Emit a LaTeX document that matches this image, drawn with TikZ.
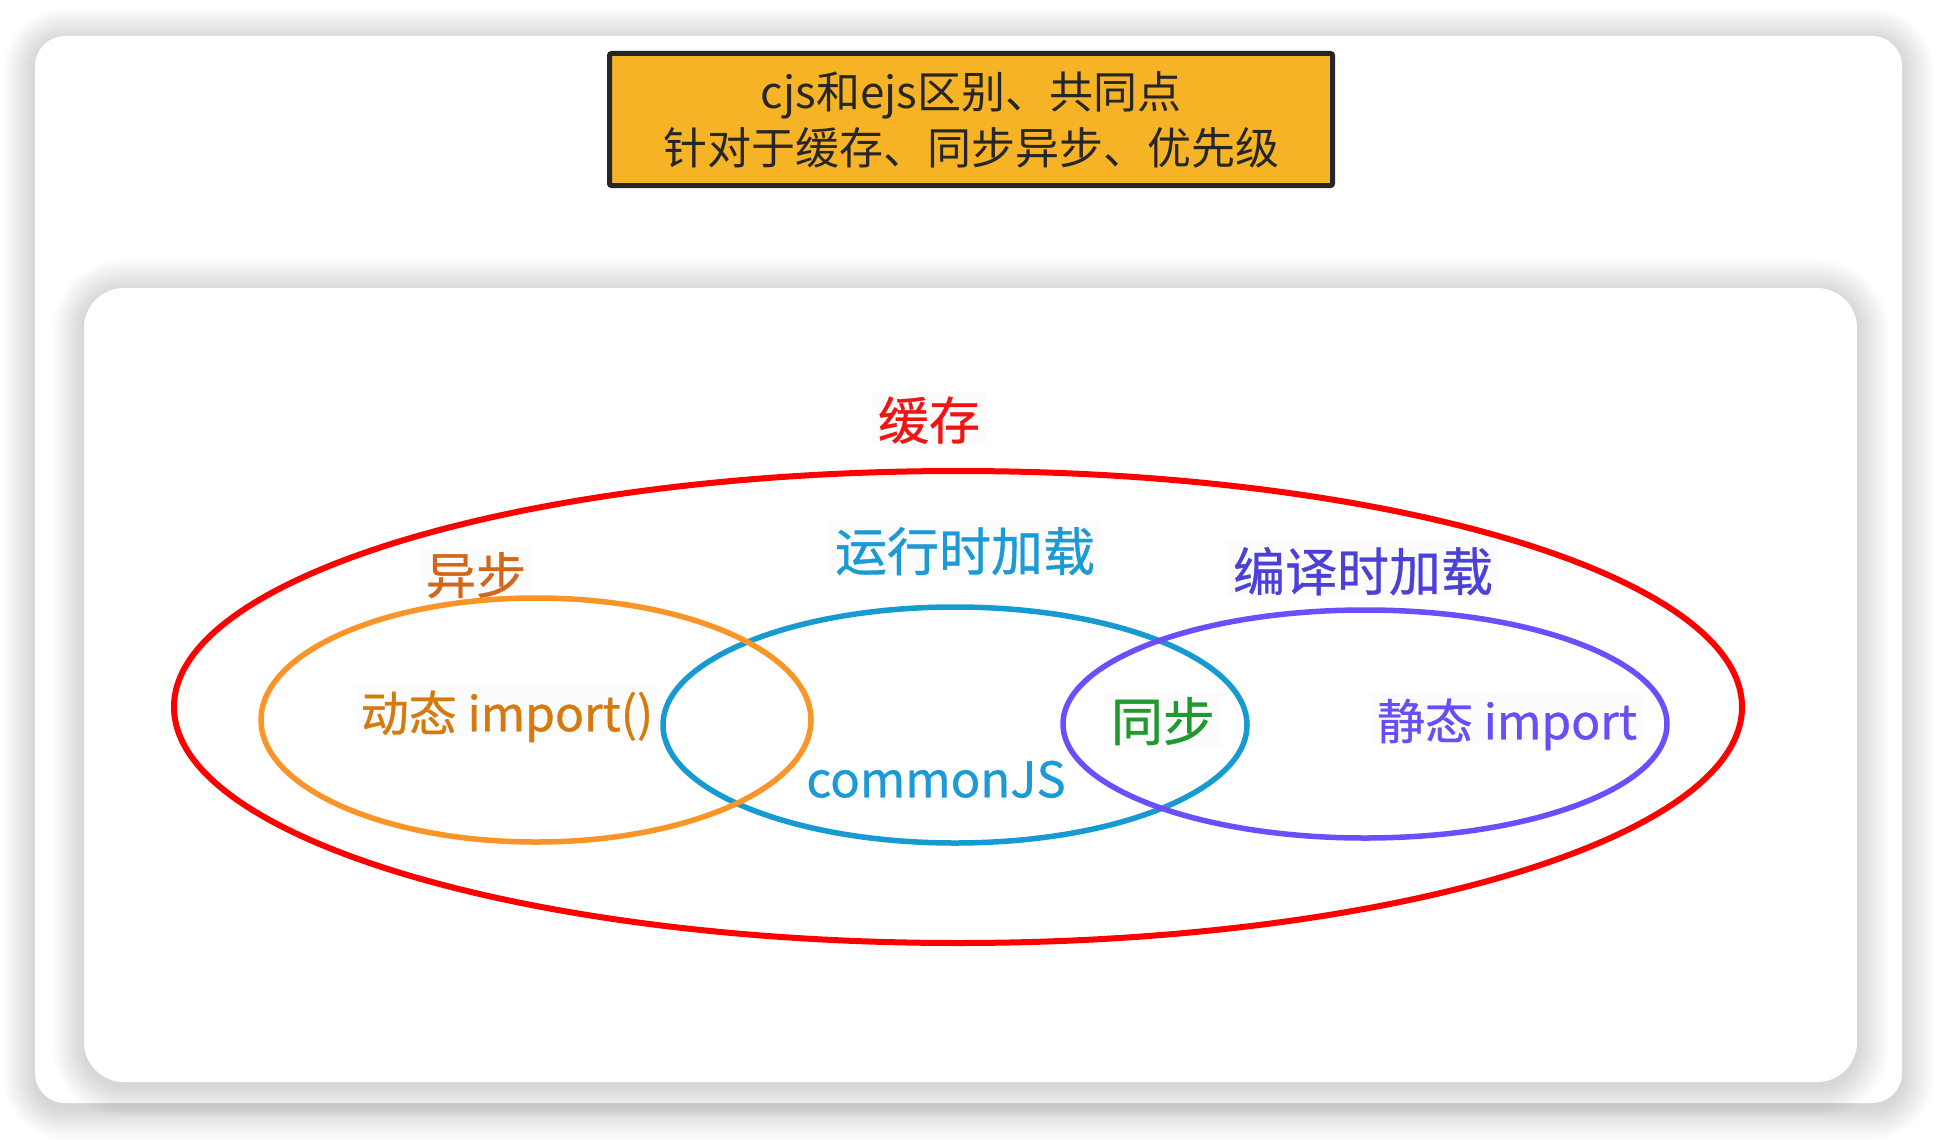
\documentclass[tikz,border=0pt]{standalone}
\usepackage{fontspec}
\setmainfont{Noto Sans CJK SC}
\newfontfamily\lblfont{Noto Sans CJK SC}[FakeBold=0.7]
\definecolor{titlefill}{HTML}{F6B325}
\definecolor{titletext}{HTML}{262626}
\definecolor{cred}{HTML}{FF0000}
\definecolor{credtext}{HTML}{F01515}
\definecolor{corange}{HTML}{FA9426}
\definecolor{corangetext}{HTML}{D57A0C}
\definecolor{casynctext}{HTML}{D2661A}
\definecolor{cblue}{HTML}{169AD2}
\definecolor{cbluetext}{HTML}{1B9AD6}
\definecolor{cpurple}{HTML}{6B4FFF}
\definecolor{cpurpletext}{HTML}{4B40D8}
\definecolor{cpurpletext2}{HTML}{6A4EF5}
\definecolor{cgreen}{HTML}{1F9A2E}
\begin{document}
\begin{tikzpicture}[x=1pt,y=-1pt,
  lbl/.style={inner sep=6pt, fill=black!1.2, text depth=0pt},
  vennline/.style={line width=5.5pt},
  titlebox/.style={draw=titletext, line width=5pt, fill=titlefill, rounded corners=2pt,
    minimum width=723pt, minimum height=132pt, align=center, text=titletext,
    font=\fontsize{44}{56}\selectfont}]
\useasboundingbox (0,0) rectangle (1938,1140);
\fill[white] (0,0) rectangle (1938,1140);
% outer card shadow
\foreach \i in {1,...,20}{
  \fill[black,opacity=0.008,rounded corners=30+\i*1.6]
    (35-\i*1.6, 40-\i*1.6) rectangle (1902+\i*1.6, 1108+\i*1.6);
}
\fill[white, rounded corners=30] (35,36) rectangle (1902,1103);
% inner card shadow
\foreach \i in {1,...,20}{
  \fill[black,opacity=0.009,rounded corners=40+\i*1.6]
    (84-\i*1.6, 291-\i*1.6) rectangle (1857+\i*1.6, 1086+\i*1.6);
}
\fill[white, rounded corners=40] (84,288) rectangle (1857,1082);
% title
\node[titlebox] (title) at (971,119.5) {cjs和ejs区别、共同点\\针对于缓存、同步异步、优先级};
% labels
\node[lbl, text=credtext, font=\lblfont\fontsize{51}{56}\selectfont] (cache) at (929,418) {缓存};
\node[lbl, text=casynctext, font=\lblfont\fontsize{50}{56}\selectfont] (async) at (476,573) {异步};
\node[lbl, text=cbluetext, font=\lblfont\fontsize{52}{56}\selectfont] (runtime) at (965,549) {运行时加载};
\node[lbl, text=cpurpletext, font=\lblfont\fontsize{52}{56}\selectfont] (compile) at (1363,569) {编译时加载};
\node[lbl, text=corangetext, font=\lblfont\fontsize{48}{56}\selectfont] (dyn) at (507,711) {动态 import()};
\node[lbl, text=cgreen, font=\lblfont\fontsize{52}{56}\selectfont] (sync) at (1163,719) {同步};
\node[lbl, text=cpurpletext2, font=\lblfont\fontsize{48}{56}\selectfont] (static) at (1507,719) {静态 import};
\node[lbl, fill=none, text=cbluetext, font=\lblfont\fontsize{49}{56}\selectfont] (cjs) at (936,779) {commonJS};
% ellipses
\draw[cred, line width=6pt] (958,707) ellipse [x radius=784, y radius=236];
\draw[cblue, vennline] (955,725) ellipse [x radius=292, y radius=118];
\draw[corange, vennline] (536,720) ellipse [x radius=275, y radius=122];
\draw[cpurple, vennline] (1365,724) ellipse [x radius=302, y radius=114];
\end{tikzpicture}
\end{document}
